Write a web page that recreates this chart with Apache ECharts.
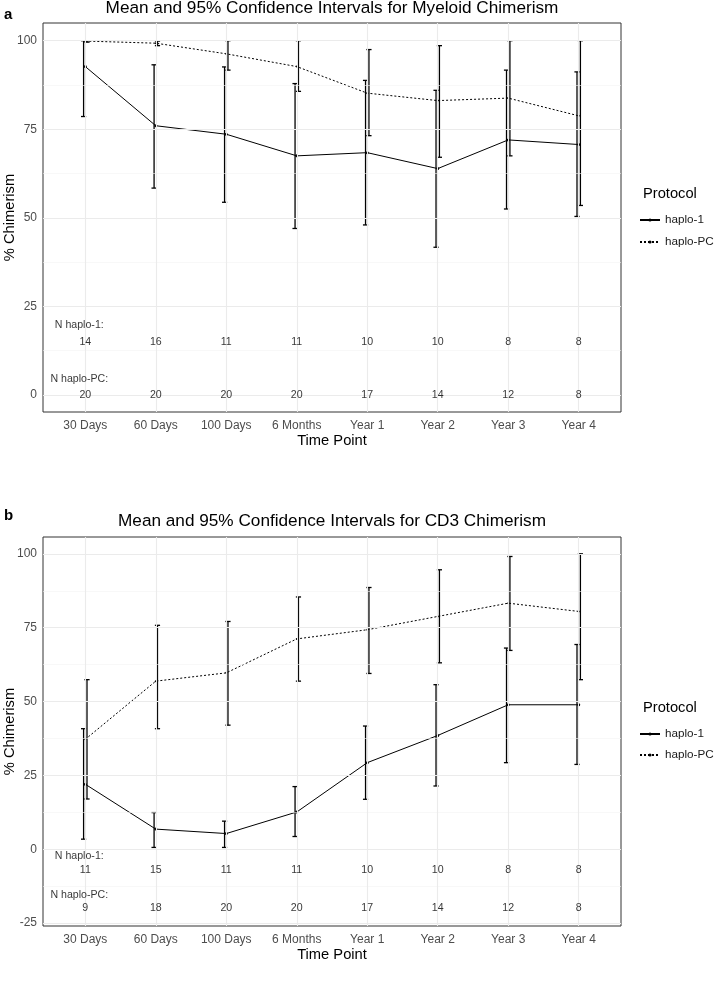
<!DOCTYPE html>
<html>
<head>
<meta charset="utf-8">
<script src="https://cdn.jsdelivr.net/npm/echarts@6/dist/echarts.min.js"></script>
<style>
  html, body { margin: 0; padding: 0; background: #fff; overflow: hidden; }
  #chart { width: 720px; height: 988px; }
</style>
</head>
<body>
<div id="chart"></div>
<script>
var timePoints = ['30 Days', '60 Days', '100 Days', '6 Months', 'Year 1', 'Year 2', 'Year 3', 'Year 4'];
var protocols = ['haplo-1', 'haplo-PC'];

// panel a: myeloid chimerism
var myeH1Mean = [92.7, 76.0, 73.6, 67.5, 68.4, 63.9, 72.0, 70.7];
var myeH1Low  = [78.6, 58.4, 54.4, 47.0, 48.0, 41.7, 52.5, 50.4];
var myeH1High = [100, 93.2, 92.6, 87.9, 88.8, 86.0, 91.7, 91.2];
var myePCMean = [99.9, 99.3, 96.3, 92.7, 85.2, 83.1, 83.8, 78.8];
var myePCLow  = [99.6, 98.6, 91.7, 85.7, 73.2, 67.1, 67.5, 53.5];
var myePCHigh = [100, 99.9, 100, 100, 97.5, 98.6, 100, 100];
var myeNH1 = [14, 16, 11, 11, 10, 10, 8, 8];
var myeNPC = [20, 20, 20, 20, 17, 14, 12, 8];
var myeTicks = [0, 25, 50, 75, 100];
var myeMinor = [12.5, 37.5, 62.5, 87.5];

// panel b: CD3 chimerism
var cd3H1Mean = [22.0, 6.8, 5.3, 12.6, 29.3, 38.5, 48.9, 48.9];
var cd3H1Low  = [3.4, 0.6, 0.6, 4.3, 16.9, 21.4, 29.3, 28.7];
var cd3H1High = [40.8, 12.4, 9.5, 21.2, 41.7, 55.7, 68.1, 69.3];
var cd3PCMean = [37.2, 56.9, 59.7, 71.2, 74.3, 78.8, 83.3, 80.5];
var cd3PCLow  = [17.0, 40.8, 42.0, 56.9, 59.5, 63.1, 67.3, 57.4];
var cd3PCHigh = [57.4, 75.8, 77.1, 85.4, 88.6, 94.6, 99.1, 100];
var cd3NH1 = [11, 15, 11, 11, 10, 10, 8, 8];
var cd3NPC = [9, 18, 20, 20, 17, 14, 12, 8];
var cd3Ticks = [-25, 0, 25, 50, 75, 100];
var cd3Minor = [-12.5, 12.5, 37.5, 62.5, 87.5];

var FONT = '"Liberation Sans", Arial, Helvetica, sans-serif';
var catIdx = timePoints.map(function (t, i) { return i; });

// error bar with small caps, dodged a little like position_dodge in ggplot
function errRender(dx) {
  return function (params, api) {
    var x = api.value(0);
    var lo = api.coord([x, api.value(1)]);
    var hi = api.coord([x, api.value(2)]);
    var cx = lo[0] + dx, w = 2.6;
    var st = { stroke: '#000', lineWidth: 1.3 };
    return {
      type: 'group',
      children: [
        { type: 'line', shape: { x1: cx, y1: lo[1], x2: cx, y2: hi[1] }, style: st },
        { type: 'line', shape: { x1: cx - w, y1: lo[1], x2: cx + w, y2: lo[1] }, style: st },
        { type: 'line', shape: { x1: cx - w, y1: hi[1], x2: cx + w, y2: hi[1] }, style: st }
      ]
    };
  };
}

function pairs(arr) { return arr.map(function (v, i) { return [i, v]; }); }

var option = {
  animation: false,
  backgroundColor: '#fff',
  title: [],
  legend: [],
  grid: [],
  xAxis: [],
  yAxis: [],
  series: []
};

function addPanel(g, p) {
  option.grid.push({
    left: 43, top: p.top, width: 578, height: 389,
    outerBoundsMode: 'none', containLabel: false,
    show: true, borderColor: '#333', borderWidth: 1, backgroundColor: 'transparent'
  });
  option.xAxis.push({
    type: 'value', gridIndex: g, min: -0.6, max: 7.6,
    axisLine: { show: false }, splitLine: { show: false },
    axisTick: { show: true, customValues: catIdx, length: 4, lineStyle: { color: '#333' } },
    axisLabel: {
      customValues: catIdx, margin: 8, color: '#4d4d4d', fontSize: 12, fontFamily: FONT,
      formatter: function (v) { return timePoints[Math.round(v)]; }
    },
    name: 'Time Point', nameLocation: 'middle', nameGap: 21, nameMoveOverlap: false,
    nameTextStyle: { fontSize: 14.7, color: '#000', fontFamily: FONT, verticalAlign: 'top' }
  });
  option.yAxis.push({
    type: 'value', gridIndex: g, min: p.ymin, max: p.ymax,
    axisLine: { show: false }, splitLine: { show: false },
    axisTick: { show: true, customValues: p.ticks, length: 4, lineStyle: { color: '#333' } },
    axisLabel: { customValues: p.ticks, margin: 6, color: '#4d4d4d', fontSize: 12, fontFamily: FONT },
    name: '% Chimerism', nameLocation: 'middle', nameGap: 26, nameMoveOverlap: false,
    nameTextStyle: { fontSize: 14.7, color: '#000', fontFamily: FONT }
  });

  // panel grid lines (theme_bw look)
  var gridLines = [];
  p.ticks.forEach(function (v) { gridLines.push({ yAxis: v, lineStyle: { type: 'solid', color: '#ebebeb', width: 1.1 } }); });
  p.minor.forEach(function (v) { gridLines.push({ yAxis: v, lineStyle: { type: 'solid', color: '#f3f3f3', width: 0.6 } }); });
  catIdx.forEach(function (v) { gridLines.push({ xAxis: v, lineStyle: { type: 'solid', color: '#ebebeb', width: 1.1 } }); });

  option.series.push({
    type: 'line', xAxisIndex: g, yAxisIndex: g, data: [], z: 1, silent: true,
    markLine: {
      silent: true, symbol: 'none', label: { show: false }, animation: false,
      lineStyle: { type: 'solid' }, data: gridLines
    }
  });

  option.series.push({
    type: 'custom', name: 'ci-1', xAxisIndex: g, yAxisIndex: g, z: 3,
    renderItem: errRender(-1.7), encode: { x: 0, y: [1, 2] },
    data: catIdx.map(function (i) { return [i, p.h1Low[i], p.h1High[i]]; })
  });
  option.series.push({
    type: 'custom', name: 'ci-PC', xAxisIndex: g, yAxisIndex: g, z: 3,
    renderItem: errRender(1.7), encode: { x: 0, y: [1, 2] },
    data: catIdx.map(function (i) { return [i, p.pcLow[i], p.pcHigh[i]]; })
  });
  option.series.push({
    type: 'line', name: 'haplo-1', xAxisIndex: g, yAxisIndex: g, z: 4,
    data: pairs(p.h1Mean), symbol: 'circle', symbolSize: 3, color: '#000',
    itemStyle: { color: '#000' }, lineStyle: { color: '#000', width: 1, type: 'solid' }
  });
  option.series.push({
    type: 'line', name: 'haplo-PC', xAxisIndex: g, yAxisIndex: g, z: 4,
    data: pairs(p.pcMean), symbol: 'circle', symbolSize: 2, color: '#000',
    itemStyle: { color: '#000' }, lineStyle: { color: '#000', width: 1, type: [2, 2] }
  });

  // sample size annotations
  var nLabel = { show: true, position: 'inside', color: '#000', fontSize: 10.6, fontFamily: FONT };
  var fmt = function (d) { return d.value[2]; };
  var hidden = { color: 'rgba(0,0,0,0)' };
  option.series.push({
    type: 'scatter', xAxisIndex: g, yAxisIndex: g, symbolSize: 1, itemStyle: hidden, silent: true, z: 5,
    data: catIdx.map(function (i) { return [i, p.nRows[0], p.nH1[i]]; }),
    label: Object.assign({ formatter: fmt }, nLabel)
  });
  option.series.push({
    type: 'scatter', xAxisIndex: g, yAxisIndex: g, symbolSize: 1, itemStyle: hidden, silent: true, z: 5,
    data: catIdx.map(function (i) { return [i, p.nRows[1], p.nPC[i]]; }),
    label: Object.assign({ formatter: fmt }, nLabel)
  });
  option.series.push({
    type: 'scatter', xAxisIndex: g, yAxisIndex: g, symbolSize: 1, itemStyle: hidden, silent: true, z: 5,
    data: [[0, p.headRows[0], 'N haplo-1:'], [0, p.headRows[1], 'N haplo-PC:']],
    label: Object.assign({ formatter: fmt, offset: [-6, 0] }, nLabel)
  });

  option.title.push({
    text: p.letter, left: 4, top: p.letterTop, padding: 0,
    textStyle: { fontSize: 15, fontWeight: 'bold', color: '#000', fontFamily: FONT }
  });
  option.title.push({
    text: p.title, left: 332, textAlign: 'center', top: p.titleTop, padding: 0,
    textStyle: { fontSize: 17.2, fontWeight: 'normal', color: '#000', fontFamily: FONT }
  });
  option.title.push({
    text: 'Protocol', left: 643, top: p.legTop - 28, padding: 0,
    textStyle: { fontSize: 14.7, fontWeight: 'normal', color: '#000', fontFamily: FONT }
  });
  option.legend.push({
    data: protocols, orient: 'vertical', left: 639, top: p.legTop, padding: 0,
    itemWidth: 20, itemHeight: 4, itemGap: p.legGap, selectedMode: false,
    textStyle: { fontSize: 11.7, color: '#1a1a1a', fontFamily: FONT }
  });
}

addPanel(0, {
  top: 23, ymin: -4.8, ymax: 105, ticks: myeTicks, minor: myeMinor,
  h1Mean: myeH1Mean, h1Low: myeH1Low, h1High: myeH1High,
  pcMean: myePCMean, pcLow: myePCLow, pcHigh: myePCHigh,
  nH1: myeNH1, nPC: myeNPC, nRows: [15, 0], headRows: [19.8, 4.6],
  letter: 'a', letterTop: 7, titleTop: 0,
  title: 'Mean and 95% Confidence Intervals for Myeloid Chimerism',
  legTop: 214, legGap: 10
});
addPanel(1, {
  top: 537, ymin: -26, ymax: 105.7, ticks: cd3Ticks, minor: cd3Minor,
  h1Mean: cd3H1Mean, h1Low: cd3H1Low, h1High: cd3H1High,
  pcMean: cd3PCMean, pcLow: cd3PCLow, pcHigh: cd3PCHigh,
  nH1: cd3NH1, nPC: cd3NPC, nRows: [-7.1, -20], headRows: [-2.3, -15.4],
  letter: 'b', letterTop: 508, titleTop: 513,
  title: 'Mean and 95% Confidence Intervals for CD3 Chimerism',
  legTop: 728, legGap: 9
});

var chart = echarts.init(document.getElementById('chart'), null, { renderer: 'canvas' });
chart.setOption(option);
</script>
</body>
</html>
